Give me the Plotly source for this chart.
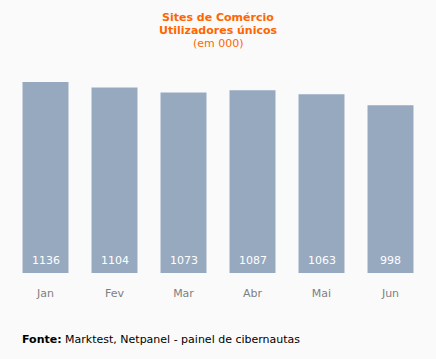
import plotly.graph_objects as go

months = ["Jan", "Fev", "Mar", "Abr", "Mai", "Jun"]
users = [1136, 1104, 1073, 1087, 1063, 998]
title_lines = ["<b>Sites de Comércio</b>", "<b>Utilizadores únicos</b>", "(em 000)"]
source_text = "<b>Fonte:</b> Marktest, Netpanel - painel de cibernautas"

bar_color = "#97a9bf"
orange = "#ff6600"

fig = go.Figure()
fig.add_trace(go.Bar(
    x=months, y=users, marker=dict(color=bar_color, line=dict(width=0)),
    hoverinfo="skip",
))

for m, v in zip(months, users):
    fig.add_annotation(x=m, y=0, text=str(v), showarrow=False,
                       yanchor="bottom", yshift=4,
                       font=dict(family="DejaVu Sans", size=11, color="white"))

for i, (line, shift) in enumerate(zip(title_lines, [42.5, 30, 17])):
    fig.add_annotation(xref="paper", yref="paper", x=0.5, y=1, yshift=shift,
                       text=line, showarrow=False, yanchor="middle", align="center",
                       font=dict(family="DejaVu Sans", size=11, color=orange))

fig.add_annotation(xref="paper", yref="paper", x=0, xshift=9, y=0, yshift=-66,
                   text=source_text,
                   showarrow=False, xanchor="left", yanchor="middle",
                   font=dict(family="DejaVu Sans", size=11, color="#000000"))

fig.update_layout(
    width=436, height=359,
    margin=dict(l=11, r=11, t=60, b=86),
    paper_bgcolor="#fafafa", plot_bgcolor="#fafafa",
    bargap=1/3, showlegend=False,
    font=dict(family="DejaVu Sans", size=11),
)
fig.update_xaxes(showgrid=False, zeroline=False, showline=False, ticks="",
                 tickfont=dict(color="#808080", size=11), ticklabelstandoff=12)
fig.update_yaxes(range=[0, 1267], visible=False, showgrid=False, zeroline=False)

fig.write_html("out.html", config={"displayModeBar": False},
               post_script="document.body.style.margin='0';document.body.style.background='#fafafa';")
